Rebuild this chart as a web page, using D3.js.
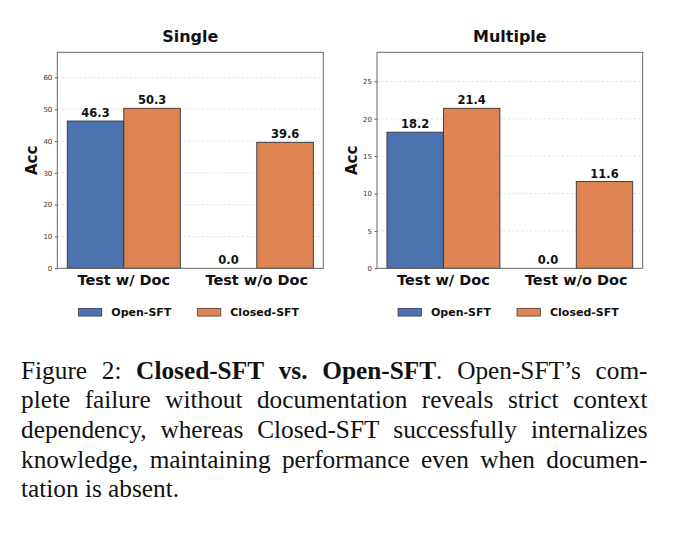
<!DOCTYPE html>
<html>
<head>
<meta charset="utf-8">
<script src="https://cdn.jsdelivr.net/npm/d3@7"></script>
<style>
  body { margin: 0; background: #fff; }
  svg { display: block; }
</style>
</head>
<body>
<svg id="fig" width="680" height="535"></svg>
<script>
// data
const categories = ["Test w/ Doc", "Test w/o Doc"];
const methods = ["Open-SFT", "Closed-SFT"];
const methodColors = ["#4c72b0", "#dd8452"];
const singleOpen = [46.3, 0.0];
const singleClosed = [50.3, 39.6];
const multipleOpen = [18.2, 0.0];
const multipleClosed = [21.4, 11.6];
const singleTicks = [0, 10, 20, 30, 40, 50, 60];
const multipleTicks = [0, 5, 10, 15, 20, 25];

// caption runs per line: [text, bold]
const captionLines = [
  [["Figure 2: ", false], ["Closed-SFT vs. Open-SFT", true], [". Open-SFT\u2019s com-", false]],
  [["plete failure without documentation reveals strict context", false]],
  [["dependency, whereas Closed-SFT successfully internalizes", false]],
  [["knowledge, maintaining performance even when documen-", false]],
  [["tation is absent.", false]]
];

const svg = d3.select("#fig");
const sans = "DejaVu Sans, sans-serif";
const plotTop = 52.3, plotBottom = 268.3;

function drawPanel(title, openVals, closedVals, ticks, left, right) {
  const g = svg.append("g");
  const ymax = d3.max(openVals.concat(closedVals)) * 1.35;
  const x = d3.scaleLinear().domain([-0.5, 1.5]).range([left, right]);
  const y = d3.scaleLinear().domain([0, ymax]).range([plotBottom, plotTop]);
  const bw = 0.425;

  // grid
  g.selectAll("line.grid")
    .data(ticks.filter(t => t > 0))
    .enter().append("line")
    .attr("x1", left).attr("x2", right)
    .attr("y1", d => y(d)).attr("y2", d => y(d))
    .attr("stroke", "#d9d9d9")
    .attr("stroke-width", 0.7)
    .attr("stroke-dasharray", "2.5,2");

  // y axis
  const yAxis = g.append("g")
    .attr("transform", `translate(${left},0)`)
    .call(d3.axisLeft(y).tickValues(ticks).tickSize(2.5).tickPadding(2.5).tickFormat(d3.format("d")));
  yAxis.select(".domain").remove();
  yAxis.selectAll(".tick line").attr("stroke", "#333").attr("stroke-width", 0.8);
  yAxis.selectAll(".tick text")
    .attr("font-family", sans).attr("font-size", 7).attr("fill", "#333");

  // bars
  const series = [openVals, closedVals];
  series.forEach((vals, si) => {
    g.selectAll("rect.s" + si)
      .data(vals)
      .enter().append("rect")
      .attr("x", (d, i) => x(i + (si === 0 ? -bw : 0)))
      .attr("width", x(bw) - x(0))
      .attr("y", d => y(d))
      .attr("height", d => y(0) - y(d))
      .attr("fill", methodColors[si])
      .attr("stroke", "#333")
      .attr("stroke-width", 0.9);

    g.selectAll("text.v" + si)
      .data(vals)
      .enter().append("text")
      .attr("x", (d, i) => x(i + (si === 0 ? -bw / 2 : bw / 2)))
      .attr("y", d => y(d) - 4)
      .attr("text-anchor", "middle")
      .attr("font-family", sans).attr("font-weight", "bold").attr("font-size", 11.5)
      .attr("fill", "#111")
      .text(d => d.toFixed(1));
  });

  // frame
  g.append("rect")
    .attr("x", left).attr("y", plotTop)
    .attr("width", right - left).attr("height", plotBottom - plotTop)
    .attr("fill", "none").attr("stroke", "#666").attr("stroke-width", 1);

  // x category labels
  g.selectAll("text.cat")
    .data(categories)
    .enter().append("text")
    .attr("x", (d, i) => x(i))
    .attr("y", 284.5)
    .attr("text-anchor", "middle")
    .attr("font-family", sans).attr("font-weight", "bold").attr("font-size", 14.5)
    .attr("fill", "#111")
    .text(d => d);

  // y label
  g.append("text")
    .attr("transform", `translate(${left - 20},${(plotTop + plotBottom) / 2}) rotate(-90)`)
    .attr("text-anchor", "middle")
    .attr("font-family", sans).attr("font-weight", "bold").attr("font-size", 15)
    .attr("fill", "#111")
    .text("Acc");

  // title
  g.append("text")
    .attr("x", (left + right) / 2).attr("y", 41.7)
    .attr("text-anchor", "middle")
    .attr("font-family", sans).attr("font-weight", "bold").attr("font-size", 16)
    .attr("fill", "#111")
    .text(title);

  // legend
  const legX = [left + 21, left + 140];
  methods.forEach((m, i) => {
    g.append("rect")
      .attr("x", legX[i]).attr("y", 308.3)
      .attr("width", 23.5).attr("height", 7.8)
      .attr("fill", methodColors[i]).attr("stroke", "#333").attr("stroke-width", 0.7);
    g.append("text")
      .attr("x", legX[i] + 33).attr("y", 316.3)
      .attr("font-family", sans).attr("font-weight", "bold").attr("font-size", 11)
      .attr("fill", "#111")
      .text(m);
  });
}

drawPanel("Single", singleOpen, singleClosed, singleTicks, 57.3, 323.3);
drawPanel("Multiple", multipleOpen, multipleClosed, multipleTicks, 377, 642.7);

// caption, justified between two edges
const capLeft = 21, capRight = 647.5, capY0 = 378.8, capStep = 29.6;
const serif = "'Liberation Serif', 'Times New Roman', serif";
const cap = svg.append("g").attr("font-family", serif).attr("font-size", 25.3).attr("fill", "#111");

captionLines.forEach((line, li) => {
  // build words; each word is a list of [text, bold] runs
  const words = [];
  let cur = null;
  line.forEach(([txt, bold]) => {
    txt.split(" ").forEach((piece, pi) => {
      if (pi > 0 || cur === null) {
        if (cur && cur.length) words.push(cur);
        cur = [];
      }
      if (piece.length) cur.push([piece, bold]);
    });
  });
  if (cur && cur.length) words.push(cur);

  const nodes = words.map(runs => {
    const t = cap.append("text").attr("y", capY0 + li * capStep);
    runs.forEach(([s, b]) => t.append("tspan").attr("font-weight", b ? "bold" : "normal").text(s));
    return t;
  });
  const widths = nodes.map(n => n.node().getComputedTextLength());
  const total = d3.sum(widths);
  const last = li === captionLines.length - 1;
  const gap = last ? 6.3 : (capRight - capLeft - total) / (words.length - 1);
  let cx = capLeft;
  nodes.forEach((n, i) => {
    n.attr("x", cx);
    cx += widths[i] + gap;
  });
});
</script>
</body>
</html>
